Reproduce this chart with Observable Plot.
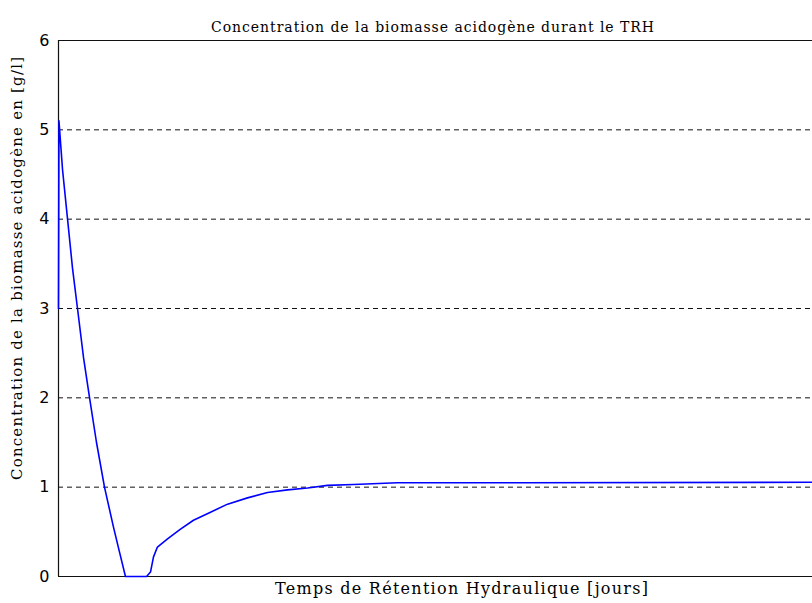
<!DOCTYPE html>
<html>
<head>
<meta charset="utf-8">
<script src="https://cdn.jsdelivr.net/npm/d3@7"></script>
<script src="https://cdn.jsdelivr.net/npm/@observablehq/plot@0.6"></script>
<style>
  html, body { margin: 0; padding: 0; background: #fff; }
  #chart { width: 812px; height: 603px; }
</style>
</head>
<body>
<div id="chart"></div>
<script>
// Time (days, arbitrary units — no x tick labels in the original) and concentration [g/l]
const days = [0, 0.03, 0.27, 0.60, 0.93, 1.26, 1.66, 2.06, 2.52, 3.05, 3.65, 4.05, 4.44,
  5.84, 6.10, 6.30, 6.56, 7.23, 8.09, 8.95, 10.08, 11.21, 12.53, 13.86, 15.19, 16.51,
  17.84, 19.56, 22.48, 30.64, 50];
const biomass = [3.0, 5.1, 4.55, 4.0, 3.45, 3.0, 2.45, 2.0, 1.5, 1.0, 0.55, 0.27, 0.0,
  0.0, 0.05, 0.22, 0.33, 0.42, 0.53, 0.63, 0.72, 0.81, 0.88, 0.94, 0.97, 0.99,
  1.02, 1.03, 1.05, 1.05, 1.055];
const yTicks = [0, 1, 2, 3, 4, 5, 6];
const gridValues = [1, 2, 3, 4, 5];
const title = "Concentration de la biomasse acidogène durant le TRH";
const xLabel = "Temps de Rétention Hydraulique [jours]";
const yLabel = "Concentration de la biomasse acidogène en [g/l]";

const data = days.map((d, i) => ({t: d, c: biomass[i]}));
const serif = "'DejaVu Serif', 'Liberation Serif', serif";

const chart = Plot.plot({
  width: 812,
  height: 603,
  marginLeft: 58,
  marginRight: 0,
  marginTop: 40,
  marginBottom: 27,
  x: {domain: [0, 50], axis: null},
  y: {domain: [0, 6], axis: null},
  style: {background: "#fff", color: "#000", overflow: "visible"},
  marks: [
    Plot.ruleY(gridValues, {stroke: "#111", strokeWidth: 1, strokeDasharray: "5,4"}),
    Plot.ruleY([0, 6], {stroke: "#111", strokeWidth: 1.2}),
    Plot.ruleX([0], {stroke: "#111", strokeWidth: 1.2}),
    Plot.axisY({ticks: yTicks, tickSize: 0, tickPadding: 9, label: null,
      fontSize: 16, fontFamily: "'DejaVu Sans', sans-serif", tickFormat: d3.format("d")}),
    Plot.line(data, {x: "t", y: "c", stroke: "#0000ff", strokeWidth: 1.6, curve: "linear"}),
    Plot.text([title], {frameAnchor: "top", dy: -18, dx: -3, fontSize: 14,
      fontFamily: serif, fill: "#000"}),
    Plot.text([xLabel], {frameAnchor: "bottom", dy: 17, dx: 26, fontSize: 16,
      fontFamily: serif, fill: "#000"}),
    Plot.text([yLabel], {frameAnchor: "left", textAnchor: "middle", rotate: -90,
      dx: -41, dy: -40, fontSize: 15, fontFamily: serif, fill: "#000"})
  ]
});
// stretch the serif labels to the widths they have in the original figure
const widths = new Map([[title, 443], [xLabel, 373], [yLabel, 423]]);
d3.select(chart).selectAll("text").each(function() {
  const w = widths.get(this.textContent);
  if (w) d3.select(this).attr("textLength", w).attr("lengthAdjust", "spacing");
});
document.getElementById("chart").appendChild(chart);
</script>
</body>
</html>
